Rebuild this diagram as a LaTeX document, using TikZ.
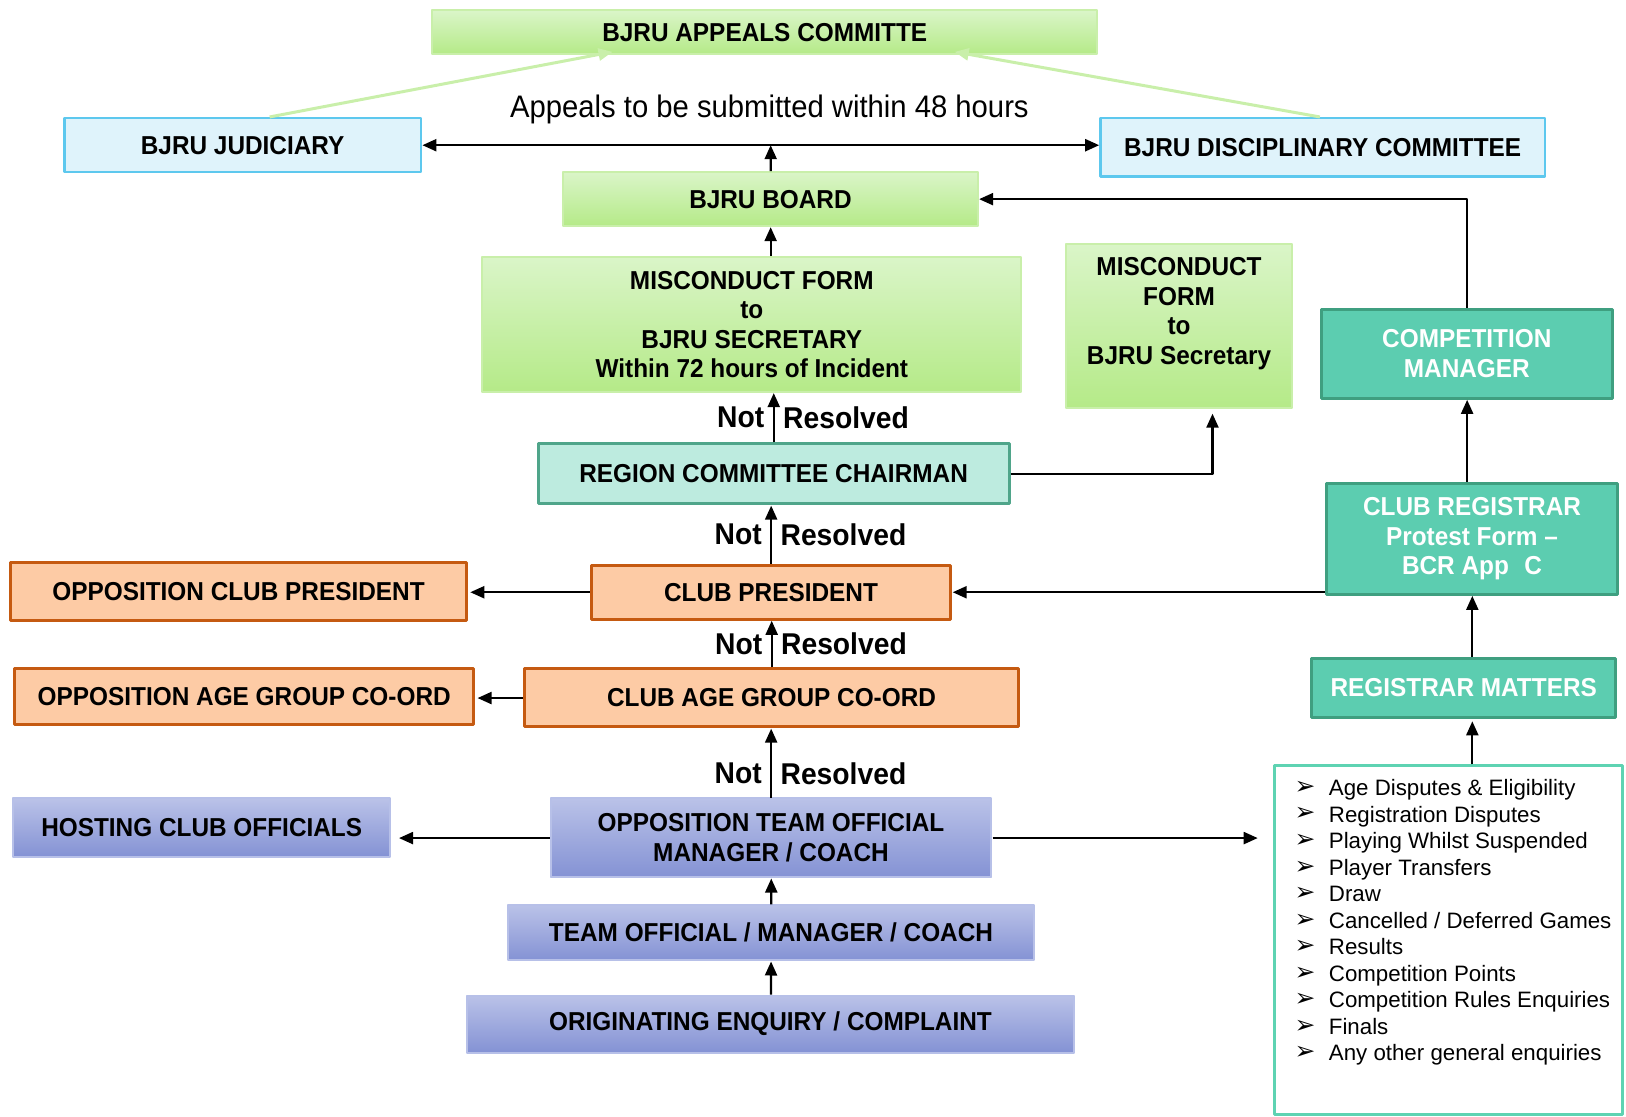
\documentclass[tikz,border=0pt]{standalone}
\usepackage{fontspec}
\usetikzlibrary{arrows.meta}
\setmainfont{Liberation Sans}
\newfontfamily\squeezed{Liberation Sans}[FakeStretch=0.94]
\newfontfamily\arrowsym{DejaVu Sans}
\definecolor{greentop}{HTML}{DAF5C8}
\definecolor{greenbot}{HTML}{B5EA88}
\definecolor{greenline}{HTML}{C9EFAA}
\definecolor{bluefill}{HTML}{DFF3FB}
\definecolor{blueline}{HTML}{5DC8EE}
\definecolor{tealfill}{HTML}{5CCDB0}
\definecolor{tealline}{HTML}{3F9F80}
\definecolor{regionfill}{HTML}{BDEBDF}
\definecolor{regionline}{HTML}{4FA58A}
\definecolor{peach}{HTML}{FDCBA5}
\definecolor{peachline}{HTML}{C55A11}
\definecolor{purpletop}{HTML}{BAC2E8}
\definecolor{purplebot}{HTML}{8492D4}
\definecolor{purpleline}{HTML}{B7C0E8}
\definecolor{listline}{HTML}{5ED3B2}
\newcommand\bulletline[1]{\makebox[52pt][l]{\hspace{19pt}\raisebox{1pt}{\arrowsym\fontsize{24}{24}\selectfont ➢}}#1\par}
\begin{document}
\begin{tikzpicture}[x=1pt,y=-1pt,scale=1.037,every node/.append style={transform shape},>={Triangle[length=14pt,width=12pt]},line join=round,
  box/.style={rectangle,inner sep=0pt,align=center,font=\squeezed\bfseries\fontsize{25}{28.5}\selectfont},
  greenbox/.style={box,draw=greenline,line width=2pt,top color=greentop,bottom color=greenbot},
  bluebox/.style={box,draw=blueline,line width=2.5pt,fill=bluefill},
  tealbox/.style={box,draw=tealline,line width=3pt,fill=tealfill,text=white},
  regionbox/.style={box,draw=regionline,line width=3pt,fill=regionfill},
  peachbox/.style={box,draw=peachline,line width=3pt,fill=peach},
  purplebox/.style={box,draw=purpleline,line width=2pt,top color=purpletop,bottom color=purplebot},
  flow/.style={line width=2.2pt},
  greenarrow/.style={draw=greenline,line width=3pt},
  notlbl/.style={left,inner xsep=8pt,font=\squeezed\bfseries\fontsize{29}{31}\selectfont},
  reslbl/.style={right,inner xsep=8pt,font=\squeezed\bfseries\fontsize{29}{31}\selectfont}]
\useasboundingbox (0,0) rectangle (1568,1077);
\node[greenbox,minimum width=641,minimum height=42] (appeals) at (737.5,31) {BJRU APPEALS COMMITTE};
\node[bluebox,minimum width=344,minimum height=52] (judiciary) at (234,140) {BJRU JUDICIARY};
\node[bluebox,minimum width=429,minimum height=56] (disc) at (1275.5,142) {BJRU DISCIPLINARY COMMITTEE};
\node[font=\squeezed\fontsize{30}{32}\selectfont] (note) at (742,106) {Appeals to be submitted within 48 hours};
\node[greenbox,minimum width=400,minimum height=52] (board) at (743,192) {BJRU BOARD};
\node[greenbox,minimum width=520,minimum height=130] (misc1) at (725,313) {MISCONDUCT FORM\\to\\BJRU SECRETARY\\Within 72 hours of Incident};
\node[greenbox,minimum width=218,minimum height=158] (misc2) at (1137,314) {MISCONDUCT\\FORM\\to\\BJRU Secretary\\\mbox{}};
\node[tealbox,minimum width=281,minimum height=86] (comp) at (1414.5,341) {COMPETITION\\MANAGER};
\node[regionbox,minimum width=454,minimum height=58] (region) at (746,457) {REGION COMMITTEE CHAIRMAN};
\node[tealbox,minimum width=281,minimum height=107] (reg) at (1419.5,519.5) {CLUB REGISTRAR\\Protest Form –\\BCR App\,\, C};
\node[peachbox,minimum width=347,minimum height=52] (clubpres) at (743.5,571) {CLUB PRESIDENT};
\node[peachbox,minimum width=440,minimum height=56] (oppclub) at (230,570) {OPPOSITION CLUB PRESIDENT};
\node[tealbox,minimum width=293,minimum height=57] (regmat) at (1411.5,663.5) {REGISTRAR MATTERS};
\node[peachbox,minimum width=476,minimum height=56] (clubage) at (744,673) {CLUB AGE GROUP CO-ORD};
\node[peachbox,minimum width=443,minimum height=54] (oppage) at (235.5,672) {OPPOSITION AGE GROUP CO-ORD};
\node[draw=listline,line width=3pt,fill=white,inner sep=0pt,font=\fontsize{21.5}{25.6}\selectfont] (list) at (1397,906.5)
  {\parbox[c][336pt][t]{335pt}{\vspace*{13pt}
  \bulletline{Age Disputes \& Eligibility}
  \bulletline{Registration Disputes}
  \bulletline{Playing Whilst Suspended}
  \bulletline{Player Transfers}
  \bulletline{Draw}
  \bulletline{Cancelled / Deferred Games}
  \bulletline{Results}
  \bulletline{Competition Points}
  \bulletline{Competition Rules Enquiries}
  \bulletline{Finals}
  \bulletline{Any other general enquiries}}};
\node[purplebox,minimum width=363,minimum height=56] (hosting) at (194.5,798) {HOSTING CLUB OFFICIALS};
\node[purplebox,minimum width=425,minimum height=76] (oppteam) at (743.5,808) {OPPOSITION TEAM OFFICIAL\\MANAGER / COACH};
\node[purplebox,minimum width=507,minimum height=53] (team) at (743.5,899.5) {TEAM OFFICIAL / MANAGER / COACH};
\node[purplebox,minimum width=586,minimum height=55] (orig) at (743,987.5) {ORIGINATING ENQUIRY / COMPLAINT};
\draw[greenarrow,->] ([xshift=26]judiciary.north) -- ([xshift=-147,yshift=3]appeals.south);
\draw[greenarrow,->] ([xshift=-3]disc.north) -- ([xshift=183,yshift=3]appeals.south);
\draw[flow,<->] (judiciary.east) -- (judiciary.east -| disc.west);
\draw[flow,->] (board) -- (board |- judiciary.east);
\draw[flow,->] (board.south |- misc1.north) -- (board.south);
\draw[flow,->] (region.north) -- node[notlbl]{Not} node[reslbl]{Resolved} (region.north |- misc1.south);
\draw[flow,->,shorten >=5pt] (region.east) -| ([xshift=32]misc2.south);
\draw[flow,->] (clubpres.north) -- node[notlbl]{Not} node[reslbl]{Resolved} (clubpres.north |- region.south);
\draw[flow,->,shorten >=2pt] (clubpres.west) -- (clubpres.west -| oppclub.east);
\draw[flow,->] (clubage.north) -- node[notlbl]{Not} node[reslbl]{Resolved} (clubage.north |- clubpres.south);
\draw[flow,->,shorten >=2pt] (clubage.west) -- (clubage.west -| oppage.east);
\draw[flow,->] (oppteam.north) -- node[notlbl,pos=0.35]{Not} node[reslbl,pos=0.35]{Resolved} (oppteam.north |- clubage.south);
\draw[flow,->,shorten >=8pt] (oppteam.west) -- (oppteam.west -| hosting.east);
\draw[flow,->,shorten >=16pt] (oppteam.east) -- (oppteam.east -| list.west);
\draw[flow,->] (team) -- (oppteam);
\draw[flow,->] (orig) -- (team);
\draw[flow,->] (reg.west |- clubpres.east) -- (clubpres.east);
\draw[flow,->] (reg.south |- regmat.north) -- (reg.south);
\draw[flow,->,shorten >=2pt] (reg.south |- list.north) -- (reg.south |- regmat.south);
\draw[flow,->] (comp.south |- reg.north) -- (comp.south);
\draw[flow,->] (comp.north) |- (board.east);
\end{tikzpicture}
\end{document}
